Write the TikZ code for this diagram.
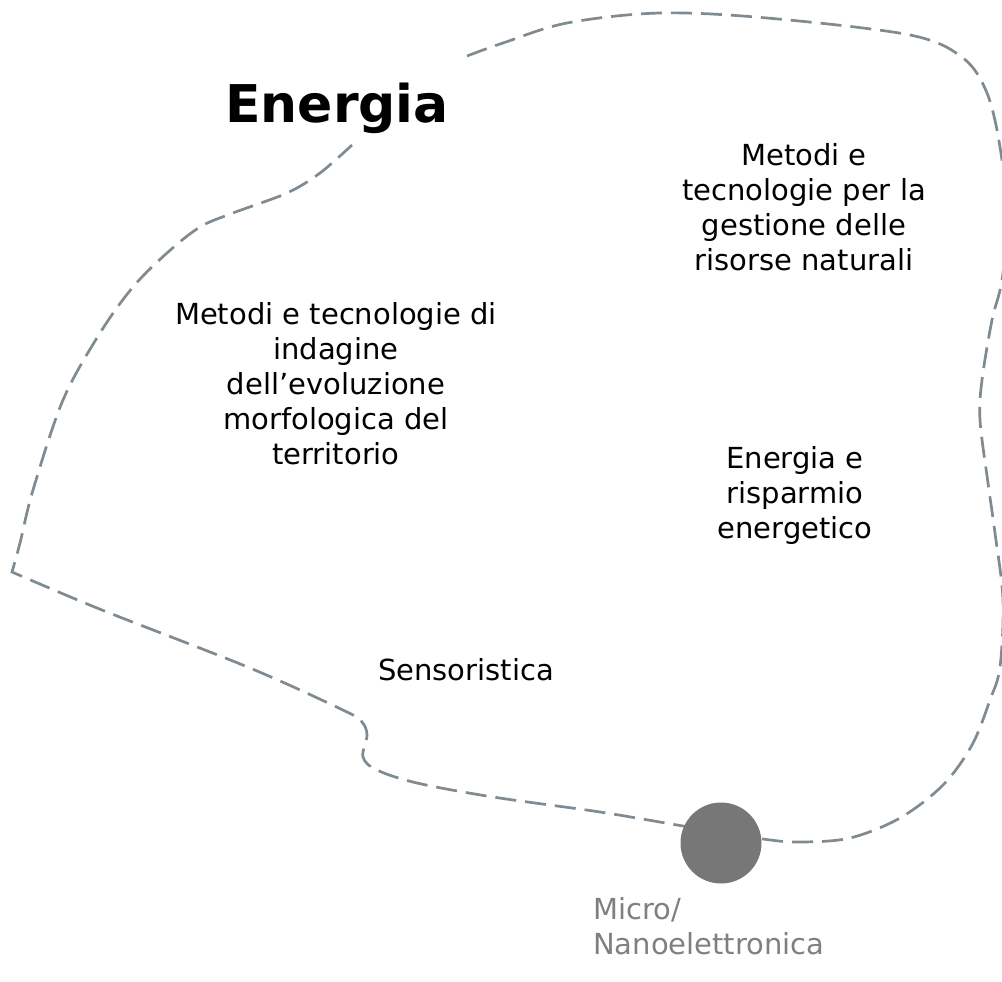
\documentclass[tikz,border=0pt]{standalone}
\usepackage{fontspec}
\setmainfont{DejaVu Sans}
\definecolor{dashcol}{RGB}{127,138,145}
\definecolor{dotcol}{RGB}{119,119,119}
\definecolor{graytext}{RGB}{128,128,128}
\tikzset{
  outline/.style={draw=dashcol, line width=2.7pt, dash pattern=on 21pt off 9pt},
  body/.style={align=center, inner sep=0pt, font=\fontsize{29}{35}\selectfont},
  title/.style={inner sep=0pt, font=\fontsize{52}{60}\selectfont\bfseries},
  dot/.style={circle, fill=dotcol, minimum size=81pt, inner sep=0pt}
}
\begin{document}
\begin{tikzpicture}[x=1pt,y=-1pt]
\useasboundingbox (0,0) rectangle (1002,982);
\draw[outline] plot[smooth, tension=0.55] coordinates {
 (467,56) (503,43) (567,23) (660,13) (767,18) (910,35) (963,58) (987,93)
 (1000,147) (1007,215) (1002,280) (992,320) (982,380) (980,420) (988,483)
 (995,533) (1003,600) (1000,667) (990,700) (972,745) (943,785) (900,818)
 (850,838) (800,842) (763,839) (683,826) (600,812) (493,797) (417,783)
 (377,770) (363,757) (367,735) (362,722) (347,712) (250,668) (102,610) (12,572)}
 -- plot[smooth, tension=0.55] coordinates {
 (12,572) (20,543) (33,490) (63,400) (100,333) (133,287) (167,253) (200,227)
 (233,213) (287,193) (320,173) (352,145)};
\node[title, anchor=base] (title) at (337,122) {Energia};
\node[body] (morfo) at (336,384) {Metodi e tecnologie di\\indagine\\dell’evoluzione\\morfologica del\\territorio};
\node[body] (risorse) at (804,207) {Metodi e\\tecnologie per la\\gestione delle\\risorse naturali};
\node[body] (energia) at (795,495) {Energia e\\risparmio\\energetico};
\node[body, anchor=base] (sensori) at (466,680) {Sensoristica};
\node[dot] (mn) at (721,843) {};
\node[body, align=left, anchor=north west, text=graytext] (mnlabel) at (593,897) {Micro/\\Nanoelettronica};
\end{tikzpicture}
\end{document}
